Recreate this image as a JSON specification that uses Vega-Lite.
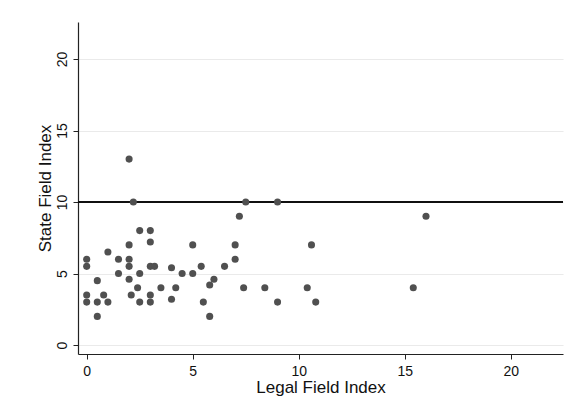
{
  "$schema": "https://vega.github.io/schema/vega-lite/v6.json",
  "width": 485,
  "height": 332,
  "autosize": {"type": "none"},
  "padding": {"left": 78, "top": 22, "right": 10, "bottom": 58},
  "background": "white",
  "config": {
    "view": {"stroke": null},
    "font": "Liberation Sans",
    "axis": {"domainColor": "#222", "tickColor": "#222", "labelColor": "#111", "titleColor": "#111", "titleFontWeight": "normal", "labelFont": "Liberation Sans", "titleFont": "Liberation Sans"}
  },
  "data": {"values": [
    {"legal": 2, "state": 13}, {"legal": 2.2, "state": 10}, {"legal": 2.5, "state": 8}, {"legal": 3, "state": 8},
    {"legal": 3, "state": 7.2}, {"legal": 2, "state": 7}, {"legal": 1, "state": 6.5}, {"legal": 0, "state": 6},
    {"legal": 0, "state": 5.5}, {"legal": 1.5, "state": 6}, {"legal": 2, "state": 6}, {"legal": 2, "state": 5.5},
    {"legal": 1.5, "state": 5}, {"legal": 2.5, "state": 5}, {"legal": 3, "state": 5.5}, {"legal": 3.2, "state": 5.5},
    {"legal": 4, "state": 5.4}, {"legal": 0.5, "state": 4.5}, {"legal": 2, "state": 4.6}, {"legal": 2.4, "state": 4},
    {"legal": 3.5, "state": 4}, {"legal": 4.2, "state": 4}, {"legal": 0, "state": 3.5}, {"legal": 0.8, "state": 3.5},
    {"legal": 2.1, "state": 3.5}, {"legal": 3, "state": 3.5}, {"legal": 0, "state": 3}, {"legal": 0.5, "state": 3},
    {"legal": 1, "state": 3}, {"legal": 2.5, "state": 3}, {"legal": 3, "state": 3}, {"legal": 4, "state": 3.2},
    {"legal": 0.5, "state": 2}, {"legal": 7.5, "state": 10}, {"legal": 7.2, "state": 9}, {"legal": 5, "state": 7},
    {"legal": 7, "state": 7}, {"legal": 7, "state": 6}, {"legal": 4.5, "state": 5}, {"legal": 5, "state": 5},
    {"legal": 5.4, "state": 5.5}, {"legal": 6.5, "state": 5.5}, {"legal": 6, "state": 4.6}, {"legal": 5.8, "state": 4.2},
    {"legal": 7.4, "state": 4}, {"legal": 8.4, "state": 4}, {"legal": 5.5, "state": 3}, {"legal": 5.8, "state": 2},
    {"legal": 9, "state": 10}, {"legal": 10.6, "state": 7}, {"legal": 9, "state": 3}, {"legal": 10.4, "state": 4},
    {"legal": 10.8, "state": 3}, {"legal": 16, "state": 9}, {"legal": 15.4, "state": 4}
  ]},
  "layer": [
    {
      "mark": {"type": "rule", "color": "#111111", "strokeWidth": 1},
      "encoding": {"y": {"datum": 10, "type": "quantitative", "scale": {"domain": [-0.63, 22.59], "nice": false, "zero": false}}}
    },
    {
      "mark": {"type": "circle", "size": 50, "color": "#505050", "opacity": 1},
      "encoding": {
        "x": {"field": "legal", "type": "quantitative", "title": "Legal Field Index",
          "scale": {"domain": [-0.41, 22.46], "nice": false, "zero": false},
          "axis": {"values": [0, 5, 10, 15, 20], "grid": false, "tickSize": 5, "labelFontSize": 14, "titleFontSize": 17, "labelPadding": 5, "titlePadding": 1, "domainWidth": 1.2}},
        "y": {"field": "state", "type": "quantitative", "title": "State Field Index",
          "scale": {"domain": [-0.63, 22.59], "nice": false, "zero": false},
          "axis": {"values": [0, 5, 10, 15, 20], "grid": true, "gridColor": "#eaeaea", "gridWidth": 1.2, "tickSize": 5, "labelAngle": -90, "labelAlign": "center", "labelBaseline": "bottom", "labelFontSize": 14, "titleFontSize": 17, "labelPadding": 4, "titlePadding": 1, "domainWidth": 1.2}}
      }
    }
  ]
}
